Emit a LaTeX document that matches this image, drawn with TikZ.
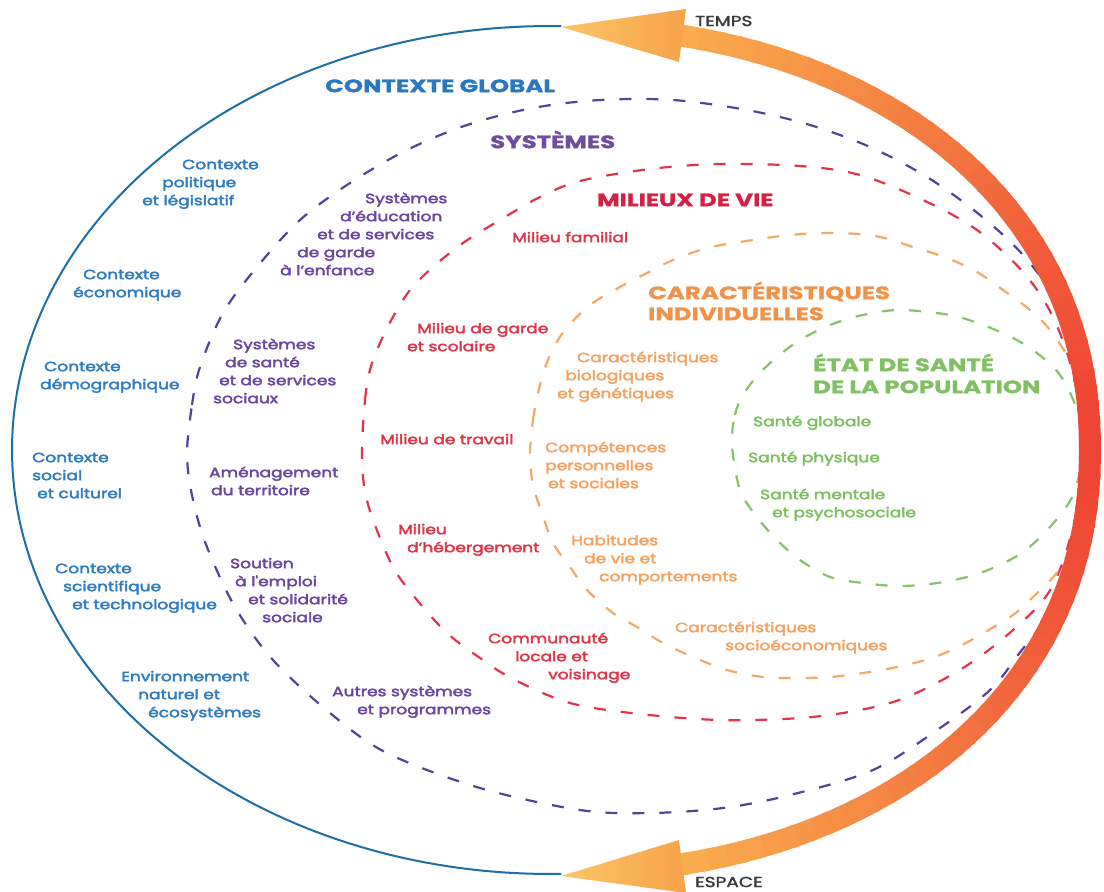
\documentclass[tikz,border=0pt]{standalone}
\usepackage{fontspec}
\setmainfont{Poppins}
\newfontfamily\lab{Poppins}[FakeStretch=1.26,FakeBold=3]
\newfontfamily\ttl{Poppins}[FakeStretch=1.36,FakeBold=1]
\newfontfamily\axf{Poppins}[FakeStretch=1.28,FakeBold=2]
\newcommand\fst{\rule{0pt}{12pt}}
\newcommand\tst{\rule{0pt}{20pt}}
\definecolor{cBlue}{HTML}{2F7DC0}
\definecolor{cBlueT}{HTML}{2A78BE}
\definecolor{cBlueL}{HTML}{1D6FA5}
\definecolor{cPur}{HTML}{6B46A0}
\definecolor{cPurT}{HTML}{6F4C9E}
\definecolor{cPurD}{HTML}{58409A}
\definecolor{cRed}{HTML}{E0364A}
\definecolor{cRedT}{HTML}{D42045}
\definecolor{cRedD}{HTML}{E2334A}
\definecolor{cOra}{HTML}{F5A25E}
\definecolor{cOraT}{HTML}{F0924A}
\definecolor{cOraD}{HTML}{F5A865}
\definecolor{cGre}{HTML}{7CC05E}
\definecolor{cGreT}{HTML}{80C062}
\definecolor{cGreD}{HTML}{86C268}
\definecolor{arrO}{HTML}{F9AE4E}
\definecolor{arrR}{HTML}{EE4433}
\definecolor{headL}{HTML}{FBC565}
\definecolor{headR}{HTML}{F8A24A}
\definecolor{axc}{HTML}{3A3A3A}
\begin{document}
\begin{tikzpicture}[x=1pt,y=-1pt,
  lbl/.style={font=\lab\fontsize{13.5}{18}\selectfont, align=left, anchor=north west, inner sep=0pt},
  ttlb/.style={font=\ttl\bfseries\fontsize{18}{21.5}\selectfont, align=left, anchor=north west, inner sep=0pt},
  dsh/.style={dash pattern=on 12pt off 15pt, line width=2.2pt},
  axlab/.style={font=\axf\fontsize{14.5}{16}\selectfont, text=axc, anchor=west, inner sep=0pt}]
\useasboundingbox (0,0) rectangle (1104,892);
\fill[white] (0,0) rectangle (1104,892);
% dashed rings
\draw[dsh, cPurD] plot[smooth cycle, tension=0.55] coordinates {
 (187,455) (192,405) (200,367) (223,313) (257,267) (300,220) (350,183) (407,150) (467,125)
 (533,108) (600,100) (673,100) (747,110) (810,125) (870,147) (927,177) (980,215) (1023,255)
 (1055,300) (1075,360) (1083,450) (1075,540) (1050,610) (1018,655) (990,690) (940,728)
 (873,770) (790,795) (723,808) (650,813) (580,810) (480,788) (387,753) (330,713) (273,660)
 (235,607) (207,547) (193,500)};
\draw[dsh, cRedD] plot[smooth cycle, tension=0.55] coordinates {
 (362,450) (365,400) (370,370) (380,343) (393,317) (410,290) (433,267) (463,243) (500,220)
 (540,197) (580,181) (650,169) (720,164) (800,166) (860,175) (923,200) (977,230) (1023,272)
 (1052,315) (1072,370) (1083,440) (1076,515) (1052,587) (1013,630) (963,668) (907,697)
 (860,710) (800,718) (720,720) (640,714) (570,703) (513,679) (480,658) (447,633) (417,600)
 (393,567) (372,517) (364,485)};
\draw[dsh, cOraD] plot[smooth cycle, tension=0.55] coordinates {
 (530,455) (533,420) (540,385) (550,355) (565,330) (590,305) (620,287) (647,273) (673,260)
 (707,248) (740,242) (790,235) (840,233) (880,237) (913,247) (947,258) (977,272) (1003,290)
 (1030,310) (1050,330) (1070,362) (1085,410) (1090,460) (1082,520) (1060,568) (1040,590)
 (1017,612) (992,628) (962,645) (932,658) (897,667) (863,673) (830,677) (797,678) (763,677)
 (727,670) (693,657) (663,643) (637,627) (613,613) (587,590) (570,567) (553,543) (542,513)
 (533,485)};
\draw[dsh, cGreD] plot[smooth cycle, tension=0.55] coordinates {
 (732,445) (735,415) (743,395) (758,375) (777,357) (800,340) (830,325) (863,315) (900,310)
 (950,315) (983,325) (1013,338) (1037,353) (1060,375) (1077,410) (1083,450) (1073,495)
 (1050,527) (1023,552) (993,568) (963,578) (930,584) (897,586) (863,583) (830,577) (800,560)
 (777,540) (757,517) (740,490)};
% outer blue line
\draw[cBlueL, line width=2pt] plot[domain=88.8:271.2, samples=150] ({550+538*cos(\x)},{450+424*sin(\x)});
% arrow shaft with gradient (superellipse)
\foreach \a in {-77.5,-75.5,...,76.5}{
  \pgfmathsetmacro\b{\a+2.6}
  \pgfmathsetmacro\xa{550+540*cos(\a)^0.93}
  \pgfmathsetmacro\ya{450+424*sin(\a)*abs(sin(\a))^(-0.07)}
  \pgfmathsetmacro\xb{550+540*cos(\b)^0.93}
  \pgfmathsetmacro\yb{450+424*sin(\b)*abs(sin(\b))^(-0.07)}
  \pgfmathtruncatemacro\p{100*min(abs(\a+1.3)/77.5,1)^1.3}
  \colorlet{segc}{arrO!\p!arrR}
  \draw[line width=22pt, draw=segc] (\xa,\ya) -- (\xb,\yb);
}
% arrow heads
\shade[left color=headL, right color=headR] (561,27) -- (686,9) -- (679,62) -- cycle;
\shade[left color=headL, right color=headR] (561,876) -- (679,840) -- (686,893) -- cycle;
\node[axlab] (temps) at (695,21) {TEMPS};
\node[axlab] (espace) at (695,882) {ESPACE};
% titles
\node[ttlb, text=cBlueT] (tglob) at (325,72) {\tst CONTEXTE GLOBAL};
\node[ttlb, text=cPurT] (tsys) at (490,128) {\tst SYSTÈMES};
\node[ttlb, text=cRedT] (tmil) at (597,186) {\tst MILIEUX DE VIE};
\node[ttlb, text=cOraT, font=\ttl\bfseries\fontsize{18}{21}\selectfont] (tcar) at (648,279) {\tst CARACTÉRISTIQUES\\INDIVIDUELLES};
\node[ttlb, text=cGreT, font=\ttl\bfseries\fontsize{18}{22}\selectfont] (teta) at (813,351) {\tst ÉTAT DE SANTÉ\\DE LA POPULATION};
% blue labels
\node[lbl, text=cBlue] (b1) at (142,157) {\fst\hspace*{40pt}Contexte\\\hspace*{20pt}politique\\et législatif};
\node[lbl, text=cBlue] (b2) at (73,267) {\fst\hspace*{10pt}Contexte\\économique};
\node[lbl, text=cBlue] (b3) at (40,359) {\fst\hspace*{4pt}Contexte\\démographique};
\node[lbl, text=cBlue] (b4) at (32,450) {\fst Contexte\\social\\\hspace*{5pt}et culturel};
\node[lbl, text=cBlue] (b5) at (55,561) {\fst Contexte\\\hspace*{8pt}scientifique\\\hspace*{17pt}et technologique};
\node[lbl, text=cBlue] (b6) at (121,669) {\fst Environnement\\\hspace*{17pt}naturel et\\\hspace*{27pt}écosystèmes};
% purple labels
\node[lbl, text=cPur] (p1) at (280,191) {\fst\hspace*{85pt}Systèmes\\\hspace*{60pt}d’éducation\\\hspace*{37pt}et de services\\\hspace*{17pt}de garde\\à l’enfance};
\node[lbl, text=cPur] (p2) at (213,337) {\fst\hspace*{20pt}Systèmes\\\hspace*{12pt}de santé\\\hspace*{6pt}et de services\\sociaux};
\node[lbl, text=cPur] (p3) at (209,465) {\fst Aménagement\\\hspace*{2pt}du territoire};
\node[lbl, text=cPur] (p4) at (230,556) {\fst Soutien\\\hspace*{5pt}à l'emploi\\\hspace*{18pt}et solidarité\\\hspace*{32pt}sociale};
\node[lbl, text=cPur] (p5) at (332,684) {\fst Autres systèmes\\\hspace*{25pt}et programmes};
% red labels
\node[lbl, text=cRed] (r1) at (512,230) {\fst Milieu familial};
\node[lbl, text=cRed] (r2) at (407,321) {\fst\hspace*{10pt}Milieu de garde\\et scolaire};
\node[lbl, text=cRed] (r3) at (380,432) {\fst Milieu de travail};
\node[lbl, text=cRed] (r4) at (398,522) {\fst Milieu\\\hspace*{9pt}d’hébergement};
\node[lbl, text=cRed] (r5) at (488,631) {\fst Communauté\\\hspace*{27pt}locale et\\\hspace*{60pt}voisinage};
% orange labels
\node[lbl, text=cOra] (o1) at (557,350) {\fst\hspace*{20pt}Caractéristiques\\\hspace*{8pt}biologiques\\et génétiques};
\node[lbl, text=cOra] (o2) at (545,440) {\fst Compétences\\personnelles\\\hspace*{3pt}et sociales};
\node[lbl, text=cOra] (o3) at (571,533) {\fst Habitudes\\\hspace*{13pt}de vie et\\\hspace*{28pt}comportements};
\node[lbl, text=cOra] (o4) at (675,620) {\fst Caractéristiques\\\hspace*{50pt}socioéconomiques};
% green labels
\node[lbl, text=cGre] (g1) at (753,414) {\fst Santé globale};
\node[lbl, text=cGre] (g2) at (748,450) {\fst Santé physique};
\node[lbl, text=cGre] (g3) at (760,487) {\fst Santé mentale\\\hspace*{12pt}et psychosociale};
\end{tikzpicture}
\end{document}
